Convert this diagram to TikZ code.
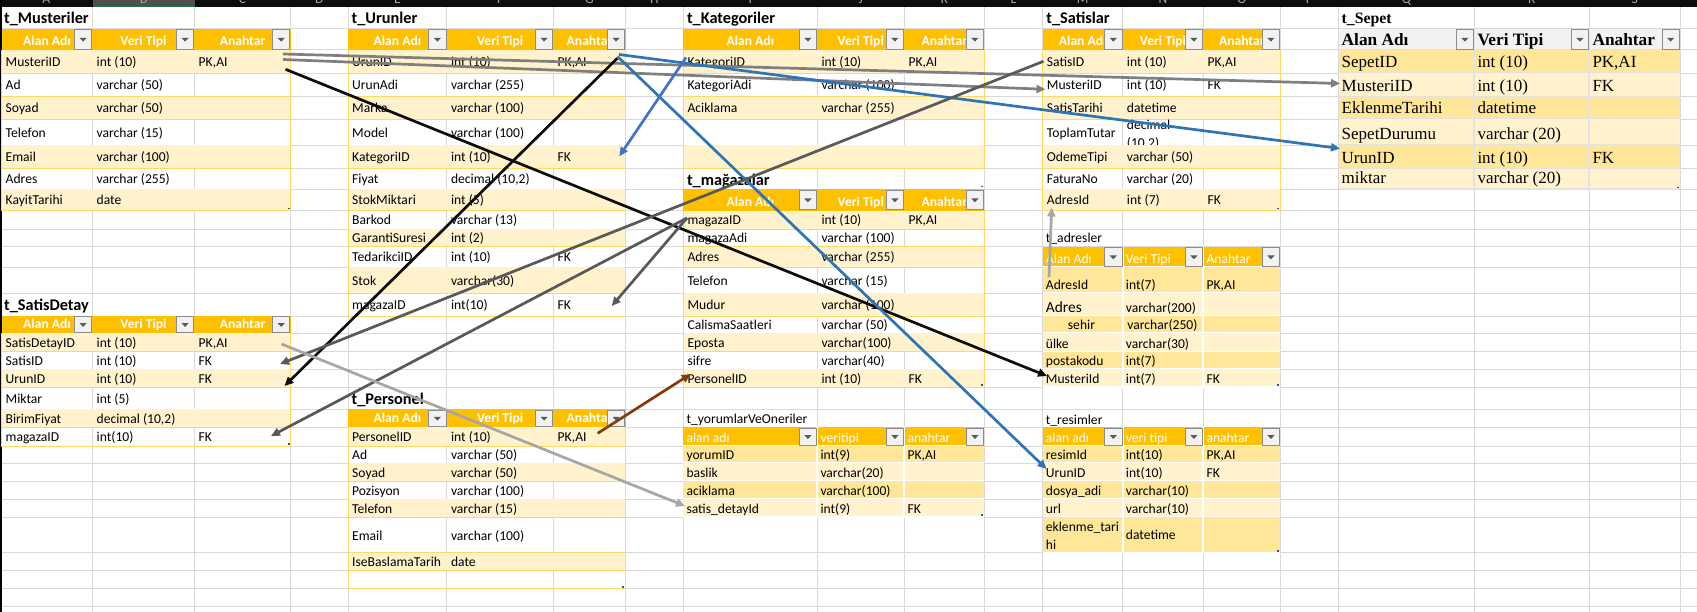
\documentclass[tikz,border=0pt]{standalone}
\usepackage{fontspec}
\setmainfont{Carlito}
\newfontfamily\sepetfont{Liberation Serif}
\usetikzlibrary{arrows.meta}

\definecolor{hdrY}{HTML}{FFC000}
\definecolor{bandL}{HTML}{FFF2CC}
\definecolor{bandD}{HTML}{FFE699}
\definecolor{tabY}{HTML}{FFD966}
\definecolor{gridC}{HTML}{D9D9D9}
\definecolor{btnLine}{HTML}{8C8C8C}
\definecolor{btnFill}{HTML}{F2F2F2}
\definecolor{btnArrow}{HTML}{595959}
\definecolor{sepHdr}{HTML}{F2F2F2}
\definecolor{handleB}{HTML}{2F5597}
\definecolor{barC}{HTML}{0D0D0D}
\definecolor{barSel}{HTML}{505050}
\definecolor{selG}{HTML}{217346}
\definecolor{arrGray}{HTML}{7F7F7F}
\definecolor{arrDark}{HTML}{595959}
\definecolor{arrLight}{HTML}{A6A6A6}
\definecolor{arrBlue}{HTML}{2E75B6}
\definecolor{arrBlueB}{HTML}{4472C4}
\definecolor{arrBrown}{HTML}{843C0C}
\definecolor{arrBlack}{HTML}{0D0D0D}

\newcommand\cellfont{\fontsize{13.6}{16.5}\selectfont}
\newcommand\hdrfont{\fontsize{13.6}{16.5}\selectfont\bfseries}
\newcommand\ttlfont{\fontsize{16.3}{19}\selectfont\bfseries}

\tikzset{
  cell/.style={anchor=base west, inner sep=0pt, font=\cellfont},
  hdr/.style={anchor=base, inner sep=0pt, font=\hdrfont, text=white},
  bhdr/.style={anchor=base west, inner sep=0pt, font=\cellfont, text=white},
  bhdrfill/.style={fill=hdrY},
  ttl/.style={anchor=base west, inner sep=0pt, font=\ttlfont},
  lite/.style={fill=bandL},
  dark/.style={fill=bandD},
  blank/.style={},
  tabline/.style={draw=tabY, line width=1pt},
  sep/.style={draw=white, line width=2pt},
  btn/.style={draw=btnLine, fill=btnFill, line width=0.8pt},
  grid/.style={draw=gridC, line width=1pt},
  corner/.style={fill=handleB},
  fk/.style={line width=2.7pt, -{Triangle[length=9pt,width=8pt]}},
}

% column edges of the table in use
\newcommand\settab[4]{\def\colA{#1}\def\colB{#2}\def\colC{#3}\def\colD{#4}}
\def\bbase{3.5}

% filter button: right edge, top, bottom
\newcommand\ddbtn[3]{%
  \path[btn] ({#1-18},{#2+0.8}) rectangle ({#1-0.8},{#3-0.8});
  \fill[btnArrow] ({#1-13},{(#2+#3)/2-1.5}) -- ++(7.2,0) -- ++(-3.6,3.8) -- cycle;
}

% header of a banded table: name, top, bottom
\newcommand\thdr[3]{%
  \fill[hdrY] (\colA,#2) rectangle (\colD,#3);
  \begin{scope}
    \clip (\colA,#2) rectangle ({\colB-19},#3);
    \node[hdr] (#1-a) at ({(\colA+\colB)/2},{#3-4.5}) {Alan Adı};
  \end{scope}
  \begin{scope}
    \clip (\colB,#2) rectangle ({\colC-19},#3);
    \node[hdr] (#1-b) at ({(\colB+\colC)/2},{#3-4.5}) {Veri Tipi};
  \end{scope}
  \begin{scope}
    \clip (\colC,#2) rectangle ({\colD-19},#3);
    \node[hdr] (#1-c) at ({(\colC+\colD)/2},{#3-4.5}) {Anahtar};
  \end{scope}
  \ddbtn{\colB}{#2}{#3}\ddbtn{\colC}{#2}{#3}\ddbtn{\colD}{#2}{#3}
}

% row of a banded table: name, top, bottom, band, three texts
\newcommand\trow[7]{%
  \path[#4] (\colA,#2) rectangle (\colD,#3);
  \node[cell] (#1-a) at ({\colA+4},{(#2+#3)/2+5}) {#5};
  \node[cell] (#1-b) at ({\colB+4},{(#2+#3)/2+5}) {#6};
  \node[cell] (#1-c) at ({\colC+4},{(#2+#3)/2+5}) {#7};
  \draw[tabline] (\colA,#2) -- (\colA,#3) -- (\colD,#3) -- (\colD,#2);
}

% header of a plain table: name, top, bottom, three texts
\newcommand\bhdr[6]{%
  \path[bhdrfill] (\colA,#2) rectangle (\colD,#3);
  \node[bhdr] (#1-a) at ({\colA+3},{#3-4}) {#4};
  \node[bhdr] (#1-b) at ({\colB+3},{#3-4}) {#5};
  \node[bhdr] (#1-c) at ({\colC+3},{#3-4}) {#6};
  \draw[sep] (\colB,#2) -- (\colB,#3);
  \draw[sep] (\colC,#2) -- (\colC,#3);
  \draw[sep] (\colA,#3) -- (\colD,#3);
  \ddbtn{\colB}{#2}{#3}\ddbtn{\colC}{#2}{#3}\ddbtn{\colD}{#2}{#3}
}

% row of a plain table
\newcommand\brow[7]{%
  \path[#4] (\colA,#2) rectangle (\colD,#3);
  \node[cell] (#1-a) at ({\colA+3},{#3-\bbase}) {#5};
  \node[cell] (#1-b) at ({\colB+3},{#3-\bbase}) {#6};
  \node[cell] (#1-c) at ({\colC+3},{#3-\bbase}) {#7};
  \draw[sep] (\colA,#3) -- (\colD,#3);
  \draw[sep] (\colB,#2) -- (\colB,#3);
  \draw[sep] (\colC,#2) -- (\colC,#3);
}

\begin{document}
\begin{tikzpicture}[x=1pt,y=-1pt]
\useasboundingbox (0,0) rectangle (1697,612);
\fill[white] (0,0) rectangle (1697,612);

% sheet grid
\foreach \y in {28.7,50,73.3,96.7,119.3,145.3,168.7,189.3,210.7,229.3,246.7,267.3,293.3,316,333.3,351.7,369.3,387.3,409.3,427.3,446,463.3,481.3,499.3,517.3,552.7,570.7,588.7,606.7}
  \draw[grid] (0,\y) -- (1697,\y);
\foreach \x in {92.5,194.5,290.6,348,446.8,553.5,625.5,683.3,817.3,904.3,984.3,1042.7,1122.7,1203.3,1280.3,1338.5,1474.3,1589.3,1680}
  \draw[grid] (\x,6.7) -- (\x,612);

% column letters, cut off at the top
\fill[barC] (0,0) rectangle (1697,6.7);
\fill[barSel] (92.5,0) rectangle (194.5,6.7);
\draw[selG, line width=1pt] (92.5,6.2) -- (194.5,6.2);
\begin{scope}
  \clip (0,0) rectangle (1697,6.7);
  \foreach \x/\l in {46.2/A,143.5/B,242.5/C,319.3/D,397.4/E,500.2/F,589.5/G,654.4/H,750.3/I,860.8/J,944.3/K,1013.5/L,1082.7/M,1163/N,1241.8/O,1309.4/P,1406.4/Q,1531.8/R,1634.7/S}
    \node[anchor=base, inner sep=0pt, font=\cellfont, text=gray!70] (col\l) at (\x,3.5) {\l};
\end{scope}
\draw[black, line width=1.5pt] (0.75,0) -- (0.75,612);

% t_Musteriler
\settab{1.5}{92.5}{194.5}{290.6}
\node[ttl] (tMus) at (4,24) {t\_Musteriler};
\thdr{musH}{28.7}{50}
\trow{mus1}{50}{73.3}{lite}{MusteriID}{int (10)}{PK,AI}
\trow{mus2}{73.3}{96.7}{blank}{Ad}{varchar (50)}{}
\trow{mus3}{96.7}{119.3}{lite}{Soyad}{varchar (50)}{}
\trow{mus4}{119.3}{145.3}{blank}{Telefon}{varchar (15)}{}
\trow{mus5}{145.3}{168.7}{lite}{Email}{varchar (100)}{}
\trow{mus6}{168.7}{189.3}{blank}{Adres}{varchar (255)}{}
\trow{mus7}{189.3}{210.7}{lite}{KayitTarihi}{date}{}

% t_Urunler
\settab{348}{446.8}{553.5}{625.5}
\node[ttl] (tUrn) at (351.5,24) {t\_Urunler};
\thdr{urnH}{28.7}{50}
\trow{urn1}{50}{73.3}{lite}{UrunID}{int (10)}{PK,AI}
\trow{urn2}{73.3}{96.7}{blank}{UrunAdi}{varchar (255)}{}
\trow{urn3}{96.7}{119.3}{lite}{Marka}{varchar (100)}{}
\trow{urn4}{119.3}{145.3}{blank}{Model}{varchar (100)}{}
\trow{urn5}{145.3}{168.7}{lite}{KategoriID}{int (10)}{FK}
\trow{urn6}{168.7}{189.3}{blank}{Fiyat}{decimal (10,2)}{}
\trow{urn7}{189.3}{210.7}{lite}{StokMiktari}{int (5)}{}
\trow{urn8}{210.7}{229.3}{blank}{Barkod}{varchar (13)}{}
\trow{urn9}{229.3}{246.7}{lite}{GarantiSuresi}{int (2)}{}
\trow{urn10}{246.7}{267.3}{blank}{TedarikciID}{int (10)}{FK}
\trow{urn11}{267.3}{293.3}{lite}{Stok}{varchar(30)}{}
\trow{urn12}{293.3}{316}{blank}{magazaID}{int(10)}{FK}

% t_SatisDetay
\settab{1.5}{92.5}{194.5}{290.6}
\node[ttl] (tSd) at (4,311) {t\_SatisDetay};
\thdr{sdH}{316}{333.3}
\trow{sd1}{333.3}{351.7}{lite}{SatisDetayID}{int (10)}{PK,AI}
\trow{sd2}{351.7}{369.3}{blank}{SatisID}{int (10)}{FK}
\trow{sd3}{369.3}{387.3}{lite}{UrunID}{int (10)}{FK}
\trow{sd4}{387.3}{409.3}{blank}{Miktar}{int (5)}{}
\trow{sd5}{409.3}{427.3}{lite}{BirimFiyat}{decimal (10,2)}{}
\trow{sd6}{427.3}{446}{blank}{magazaID}{int(10)}{FK}

% t_Personel
\settab{348}{446.8}{553.5}{625.5}
\node[ttl] (tPer) at (351.5,404.5) {t\_Personel};
\thdr{perH}{409.3}{427.3}
\trow{per1}{427.3}{446}{lite}{PersonelID}{int (10)}{PK,AI}
\trow{per2}{446}{463.3}{blank}{Ad}{varchar (50)}{}
\trow{per3}{463.3}{481.3}{lite}{Soyad}{varchar (50)}{}
\trow{per4}{481.3}{499.3}{blank}{Pozisyon}{varchar (100)}{}
\trow{per5}{499.3}{517.3}{lite}{Telefon}{varchar (15)}{}
\trow{per6}{517.3}{552.7}{blank}{Email}{varchar (100)}{}
\trow{per7}{552.7}{570.7}{lite}{IseBaslamaTarih}{date}{}
\trow{per8}{570.7}{588.7}{blank}{}{}{}

% t_Kategoriler
\settab{683.3}{817.3}{904.3}{984.3}
\node[ttl] (tKat) at (686.8,24) {t\_Kategoriler};
\thdr{katH}{28.7}{50}
\trow{kat1}{50}{73.3}{lite}{KategoriID}{int (10)}{PK,AI}
\trow{kat2}{73.3}{96.7}{blank}{KategoriAdi}{varchar (100)}{}
\trow{kat3}{96.7}{119.3}{lite}{Aciklama}{varchar (255)}{}
\trow{kat4}{119.3}{145.3}{blank}{}{}{}
\trow{kat5}{145.3}{168.7}{lite}{}{}{}

% t_mağazalar
\node[ttl] (tMgz) at (686.8,185.5) {t\_mağazalar};
\thdr{mgzH}{189.3}{210.7}
\trow{mgz1}{210.7}{229.3}{lite}{magazaID}{int (10)}{PK,AI}
\trow{mgz2}{229.3}{246.7}{blank}{magazaAdi}{varchar (100)}{}
\trow{mgz3}{246.7}{267.3}{lite}{Adres}{varchar (255)}{}
\trow{mgz4}{267.3}{293.3}{blank}{Telefon}{varchar (15)}{}
\trow{mgz5}{293.3}{316}{lite}{Mudur}{varchar (100)}{}
\trow{mgz6}{316}{333.3}{blank}{CalismaSaatleri}{varchar (50)}{}
\trow{mgz7}{333.3}{351.7}{lite}{Eposta}{varchar(100)}{}
\trow{mgz8}{351.7}{369.3}{blank}{sifre}{varchar(40)}{}
\trow{mgz9}{369.3}{387.3}{lite}{PersonelID}{int (10)}{FK}

% t_yorumlarVeOneriler
\node[ttl, font=\cellfont] (tYrm) at (686.3,423.5) {t\_yorumlarVeOneriler};
\bhdr{yrmH}{427.3}{446}{alan adı}{veritipi}{anahtar}
\brow{yrm1}{446}{463.3}{dark}{yorumID}{int(9)}{PK,AI}
\brow{yrm2}{463.3}{481.3}{lite}{baslik}{varchar(20)}{}
\brow{yrm3}{481.3}{499.3}{dark}{aciklama}{varchar(100)}{}
\brow{yrm4}{499.3}{517.3}{lite}{satis\_detayId}{int(9)}{FK}

% t_Satislar
\settab{1042.7}{1122.7}{1203.3}{1280.3}
\node[ttl] (tSat) at (1046.2,24) {t\_Satislar};
\thdr{satH}{28.7}{50}
\trow{sat1}{50}{73.3}{lite}{SatisID}{int (10)}{PK,AI}
\trow{sat2}{73.3}{96.7}{blank}{MusteriID}{int (10)}{FK}
\trow{sat3}{96.7}{119.3}{lite}{SatisTarihi}{datetime}{}
\trow{sat4}{119.3}{145.3}{blank}{ToplamTutar}{}{}
\begin{scope}
  \clip (1122.7,119.8) rectangle (1203.3,145.3);
  \node[cell] (sat4-b1) at (1126.7,129.6) {decimal};
  \node[cell] (sat4-b2) at (1126.7,148) {(10,2)};
\end{scope}
\trow{sat5}{145.3}{168.7}{lite}{OdemeTipi}{varchar (50)}{}
\trow{sat6}{168.7}{189.3}{blank}{FaturaNo}{varchar (20)}{}
\trow{sat7}{189.3}{210.7}{lite}{AdresId}{int (7)}{FK}

% t_adresler
\node[ttl, font=\cellfont] (tAdr) at (1045.7,242.7) {t\_adresler};
\bhdr{adrH}{246.7}{267.3}{Alan Adı}{Veri Tipi}{Anahtar}
\brow{adr1}{267.3}{293.3}{dark}{AdresId}{int(7)}{PK,AI}
\brow{adr2}{293.3}{316}{lite}{\fontsize{15.4}{18}\selectfont Adres}{varchar(200)}{}
\brow{adr3}{316}{333.3}{dark}{\hspace{22pt}sehir}{\hspace{1.5pt}varchar(250)}{}
\brow{adr4}{333.3}{351.7}{lite}{ülke}{varchar(30)}{}
\brow{adr5}{351.7}{369.3}{dark}{postakodu}{int(7)}{}
\brow{adr6}{369.3}{387.3}{lite}{MusteriId}{int(7)}{FK}

% t_resimler
\node[ttl, font=\cellfont] (tRsm) at (1045.7,424) {t\_resimler};
\bhdr{rsmH}{427.3}{446}{alan adı}{veri tipi}{anahtar}
\brow{rsm1}{446}{463.3}{dark}{resimId}{int(10)}{PK,AI}
\brow{rsm2}{463.3}{481.3}{lite}{UrunID}{int(10)}{FK}
\brow{rsm3}{481.3}{499.3}{dark}{dosya\_adi}{varchar(10)}{}
\brow{rsm4}{499.3}{517.3}{lite}{url}{varchar(10)}{}
\brow{rsm5}{517.3}{552.7}{dark}{}{}{}
\node[cell] (rsm5-a1) at (1045.7,531.7) {eklenme\_tari};
\node[cell] (rsm5-a2) at (1045.7,549.3) {hi};
\node[cell] (rsm5-b1) at (1125.7,539.3) {datetime};

% t_Sepet
\settab{1338.5}{1474.3}{1589.3}{1680}
\begin{scope}[cell/.append style={font=\sepetfont\fontsize{17}{20}\selectfont},
  bhdr/.append style={text=black, font=\sepetfont\fontsize{17.3}{20}\selectfont\bfseries},
  bhdrfill/.style={fill=sepHdr}, sep/.style={draw=gray!22, line width=2pt}]
\def\bbase{5.5}
\node[ttl, font=\sepetfont\fontsize{15.8}{18}\selectfont\bfseries] (tSep) at (1341.5,24) {t\_Sepet};
\bhdr{sepH}{28.7}{50}{Alan Adı}{Veri Tipi}{Anahtar}
\brow{sep1}{50}{73.3}{dark}{SepetID}{int (10)}{PK,AI}
\brow{sep2}{73.3}{96.7}{lite}{MusteriID}{int (10)}{FK}
\brow{sep3}{96.7}{119.3}{dark}{EklenmeTarihi}{datetime}{}
\brow{sep4}{119.3}{145.3}{lite}{SepetDurumu}{varchar (20)}{}
\brow{sep5}{145.3}{168.7}{dark}{UrunID}{int (10)}{FK}
\brow{sep6}{168.7}{189.3}{lite}{miktar}{varchar (20)}{}
\end{scope}

% table resize handles
\foreach \x/\y in {289.5/209.5,289.5/444.5,624/587.5,983/187.5,983/386,983/516,1279/209.5,1279/386,1279/551.5,1679/188.5}
  \fill[corner] ({\x-1.6},{\y-1.6}) rectangle (\x,\y);

% key ends
\coordinate (musA) at (283,54);
\coordinate (musB) at (283,59.5);
\coordinate (musC) at (285.5,69.3);
\coordinate (urnA) at (617.3,58.3);
\coordinate (urnB) at (619,54.5);
\coordinate (urnC) at (617.5,56.5);
\coordinate (katA) at (686,57.5);
\coordinate (satA) at (1043.5,61.3);
\coordinate (mgzA) at (687,218);
\coordinate (sdA) at (281.5,344);
\coordinate (adrA) at (1049,277);
\coordinate (perA) at (597.7,433.3);
\coordinate (sepMus) at (1340,83.5);
\coordinate (satMus) at (1045.5,89.3);
\coordinate (adrMus) at (1047,376);
\coordinate (sdUrun) at (284.5,386);
\coordinate (sepUrun) at (1340,148.5);
\coordinate (rsmUrun) at (1046.5,469);
\coordinate (urnKat) at (619.3,156.3);
\coordinate (sdSatis) at (280,364);
\coordinate (urnMgz) at (611.7,306);
\coordinate (sdMgz) at (271,436);
\coordinate (yrmSd) at (685,506);
\coordinate (satAdr) at (1051.7,207.5);
\coordinate (mgzPer) at (690.7,374);

% relations
\draw[fk, arrGray] (musA) -- (sepMus);
\draw[fk, arrGray] (musB) -- (satMus);
\draw[fk, arrBlack] (musC) -- (adrMus);
\draw[fk, arrBlack] (urnA) -- (sdUrun);
\draw[fk, arrBlue] (urnB) -- (sepUrun);
\draw[fk, arrBlue] (urnC) -- (rsmUrun);
\draw[fk, arrBlueB] (katA) -- (urnKat);
\draw[fk, arrDark] (satA) -- (sdSatis);
\draw[fk, arrDark] (mgzA) -- (urnMgz);
\draw[fk, arrDark] (mgzA) -- (sdMgz);
\draw[fk, arrLight] (sdA) -- (yrmSd);
\draw[fk, arrLight] (adrA) -- (satAdr);
\draw[fk, arrBrown] (perA) -- (mgzPer);
\end{tikzpicture}
\end{document}
